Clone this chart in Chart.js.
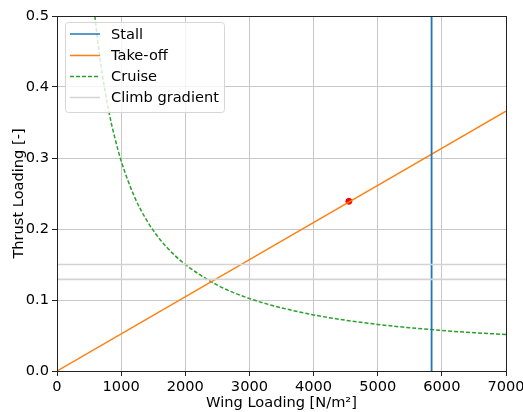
<!DOCTYPE html>
<html><head><meta charset="utf-8">
<script src="https://cdn.jsdelivr.net/npm/chart.js@4.4.1/dist/chart.umd.min.js"></script>
<style>html,body{margin:0;padding:0;background:#fff}#wrap{width:523px;height:412px}</style>
</head><body><div id="wrap"><canvas id="c" width="523" height="412"></canvas></div>
<script>
// Data
const stallX = 5840;
const takeoffX = [0, 7000];
const takeoffY = [0, 0.366];
const cruiseX = [590, 650, 700, 800, 900, 1000, 1200, 1400, 1600, 1800, 2000, 2500, 3000, 3500, 4000, 4500, 5000, 5500, 6000, 6500, 7000];
const cruiseY = [0.500, 0.454, 0.422, 0.369, 0.329, 0.296, 0.247, 0.212, 0.186, 0.166, 0.150, 0.121, 0.102, 0.089, 0.079, 0.0715, 0.0656, 0.0609, 0.0571, 0.0539, 0.0514];
const climbY = [0.150, 0.129];
const designPoint = {x: 4550, y: 0.239};
const xTicks = [0, 1000, 2000, 3000, 4000, 5000, 6000, 7000];
const yTicks = [0.0, 0.1, 0.2, 0.3, 0.4, 0.5];

const FONT = 'DejaVu Sans';
const FS = 14.6;

const datasets = [];
climbY.forEach(v => datasets.push({label: 'Climb gradient', data: [{x: 0, y: v}, {x: 7000, y: v}], borderColor: '#d3d3d3', borderWidth: 1.6, pointRadius: 0, showLine: true}));
datasets.push({label: 'Stall', data: [{x: stallX, y: 0}, {x: stallX, y: 0.5}], borderColor: '#1f77b4', borderWidth: 1.8, pointRadius: 0, showLine: true});
datasets.push({label: 'Take-off', data: takeoffX.map((x, i) => ({x, y: takeoffY[i]})), borderColor: '#ff7f0e', borderWidth: 1.5, pointRadius: 0, showLine: true});
datasets.push({label: 'Cruise', data: cruiseX.map((x, i) => ({x, y: cruiseY[i]})), borderColor: '#2ca02c', borderWidth: 1.5, borderDash: [4, 2], pointRadius: 0, showLine: true, tension: 0.3, cubicInterpolationMode: 'monotone'});
datasets.push({label: 'Design point', data: [designPoint], backgroundColor: 'red', borderColor: 'red', pointRadius: 3, showLine: false});

const legendItems = [
  {label: 'Stall', color: '#1f77b4', dash: []},
  {label: 'Take-off', color: '#ff7f0e', dash: []},
  {label: 'Cruise', color: '#2ca02c', dash: [4, 2]},
  {label: 'Climb gradient', color: '#d3d3d3', dash: []}
];

const framePlugin = {
  id: 'frame',
  afterDraw(chart) {
    const {ctx, chartArea: a} = chart;
    ctx.save();
    ctx.strokeStyle = '#222';
    ctx.lineWidth = 1;
    ctx.strokeRect(Math.round(a.left) + 0.5, Math.round(a.top) + 0.5, Math.round(a.right - a.left), Math.round(a.bottom - a.top));
    // legend
    const x0 = 65, y0 = 22, w = 159, h = 90, r = 3;
    ctx.globalAlpha = 0.8;
    ctx.fillStyle = '#fff';
    ctx.beginPath();
    ctx.roundRect(x0 + 0.5, y0 + 0.5, w, h, r);
    ctx.fill();
    ctx.globalAlpha = 1;
    ctx.strokeStyle = '#d6d6d6';
    ctx.stroke();
    const rows = [34, 55.5, 76.5, 97.5];
    ctx.font = FS + 'px "' + FONT + '"';
    ctx.textBaseline = 'middle';
    ctx.textAlign = 'left';
    legendItems.forEach((it, i) => {
      ctx.beginPath();
      ctx.setLineDash(it.dash);
      ctx.strokeStyle = it.color;
      ctx.lineWidth = 1.5;
      ctx.moveTo(70, rows[i]);
      ctx.lineTo(100, rows[i]);
      ctx.stroke();
      ctx.setLineDash([]);
      ctx.fillStyle = '#000';
      ctx.fillText(it.label, 111, rows[i] + 1);
    });
    ctx.restore();
  }
};

new Chart(document.getElementById('c'), {
  type: 'scatter',
  data: {datasets},
  options: {
    responsive: false,
    animation: false,
    layout: {padding: {left: 0, right: 17, top: 16, bottom: 0}},
    plugins: {legend: {display: false}, tooltip: {enabled: false}},
    scales: {
      x: {
        type: 'linear', min: 0, max: 7000,
        afterBuildTicks: s => { s.ticks = xTicks.map(v => ({value: v})); },
        afterFit: s => { s.height = 41; s.paddingLeft = 0; s.paddingRight = 0; },
        ticks: {color: '#000', font: {family: FONT, size: FS}, padding: 2, maxRotation: 0, callback: v => String(v)},
        grid: {color: '#c8c8c8', lineWidth: 1, tickLength: 5, tickColor: '#222', drawOnChartArea: true},
        border: {display: false},
        title: {display: true, text: 'Wing Loading [N/m²]', color: '#000', font: {family: FONT, size: FS}, padding: {top: 0, bottom: 0}}
      },
      y: {
        type: 'linear', min: 0, max: 0.5,
        afterBuildTicks: s => { s.ticks = yTicks.map(v => ({value: v})); },
        afterFit: s => { s.width = 57; s.paddingTop = 0; s.paddingBottom = 0; },
        ticks: {color: '#000', font: {family: FONT, size: FS}, padding: 3, callback: v => Number(v).toFixed(1)},
        grid: {color: '#c8c8c8', lineWidth: 1, tickLength: 5, tickColor: '#222', drawOnChartArea: true},
        border: {display: false},
        title: {display: true, text: 'Thrust Loading [-]', color: '#000', font: {family: FONT, size: FS}, padding: {top: 10, bottom: 0}}
      }
    }
  },
  plugins: [framePlugin]
});
</script>
</body></html>
